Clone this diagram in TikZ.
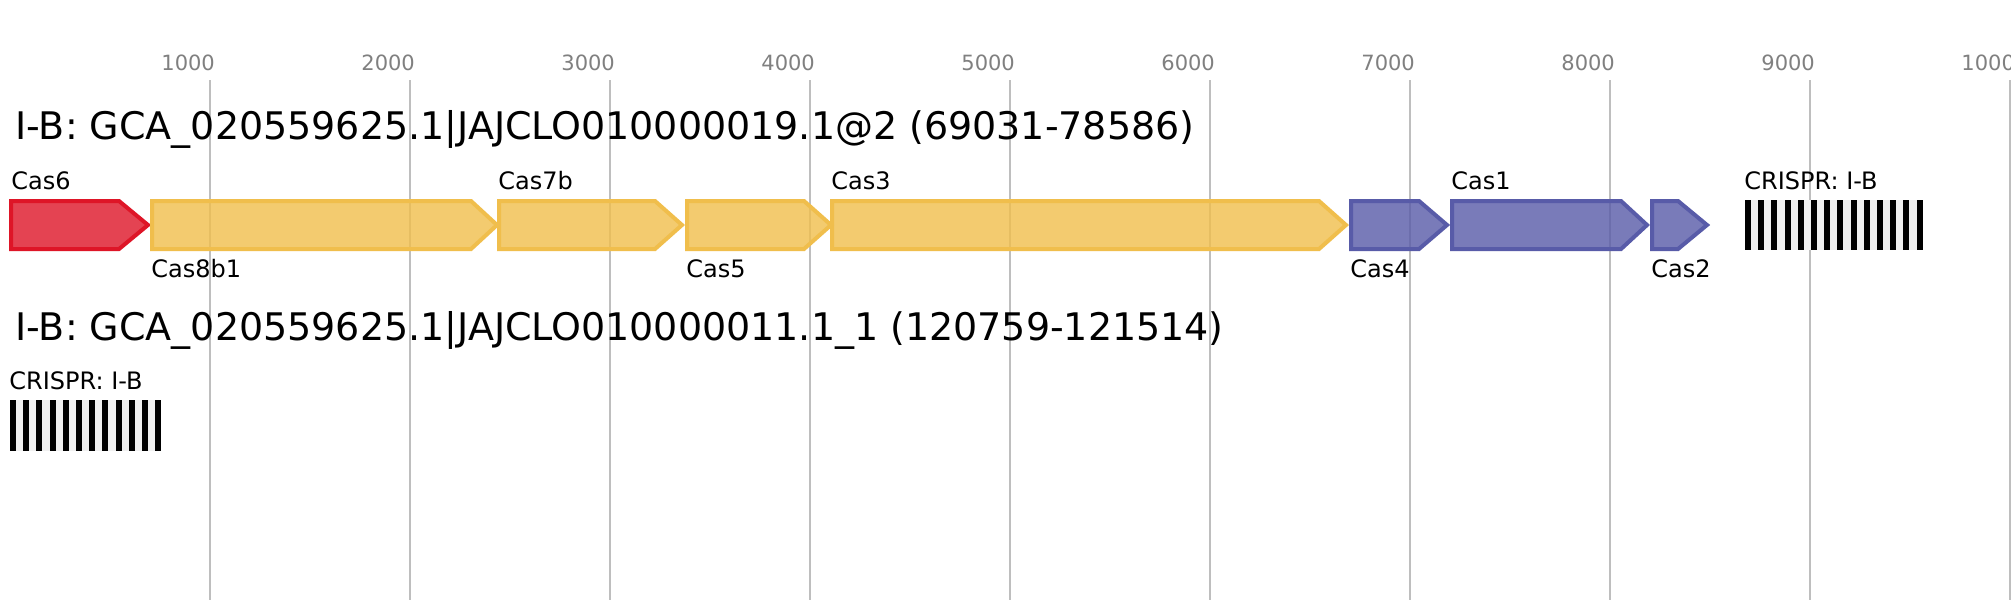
\documentclass[tikz,border=0pt]{standalone}
\usepackage{fontspec}
\setmainfont{DejaVu Sans}
\usetikzlibrary{positioning}

\definecolor{casred}{RGB}{222,21,39}
\definecolor{casyellow}{RGB}{240,190,76}
\definecolor{casblue}{RGB}{88,91,168}
\definecolor{gridgray}{RGB}{190,190,190}
\definecolor{tickgray}{RGB}{128,128,128}
\definecolor{spacergray}{RGB}{240,240,240}

\tikzset{
  gene/.style={line width=2pt, line join=miter, fill opacity=0.8},
  redgene/.style={gene, draw=casred, fill=casred},
  yellowgene/.style={gene, draw=casyellow, fill=casyellow},
  bluegene/.style={gene, draw=casblue, fill=casblue},
  gridline/.style={draw=gridgray, line width=1pt},
  ticklabel/.style={font=\fontsize{10.5}{12}\selectfont, text=tickgray, anchor=base west, inner sep=0pt},
  locustitle/.style={font=\fontsize{19}{22}\selectfont, anchor=base west, inner sep=0pt},
  genelabel/.style={font=\fontsize{12}{14}\selectfont, anchor=base west, inner sep=0pt},
}

\begin{document}
\begin{tikzpicture}[x=0.5pt,y=-0.5pt]
		\useasboundingbox (0,0) rectangle (2011,600);
		\fill[white] (0,0) rectangle (2011,600);
		\foreach \k in {1,...,10} {
			\draw[gridline] (10+200*\k,80) -- (10+200*\k,600);
			\node[ticklabel] (tick\k) at (-39+200*\k,70) {\k000};
		}
		\node[locustitle] (title1) at (15,139) {I-B: GCA\_020559625.1|JAJCLO010000019.1@2 (69031-78586)};
		\node[locustitle] (title2) at (15,340) {I-B: GCA\_020559625.1|JAJCLO010000011.1\_1 (120759-121514)};
		\draw[redgene] (11,201) -- (119,201) -- (148,225) -- (119,249) -- (11,249) -- cycle;
		\draw[yellowgene] (152,201) -- (471,201) -- (497,225) -- (471,249) -- (152,249) -- cycle;
		\draw[yellowgene] (499,201) -- (655,201) -- (682,225) -- (655,249) -- (499,249) -- cycle;
		\draw[yellowgene] (687,201) -- (804,201) -- (831,225) -- (804,249) -- (687,249) -- cycle;
		\draw[yellowgene] (832,201) -- (1319,201) -- (1346,225) -- (1319,249) -- (832,249) -- cycle;
		\draw[bluegene] (1351,201) -- (1419,201) -- (1447,225) -- (1419,249) -- (1351,249) -- cycle;
		\draw[bluegene] (1452,201) -- (1621,201) -- (1647,225) -- (1621,249) -- (1452,249) -- cycle;
		\draw[bluegene] (1652,201) -- (1678,201) -- (1707,225) -- (1678,249) -- (1652,249) -- cycle;
		\node[genelabel] (cas6) at (11,189) {Cas6};
		\node[genelabel] (cas8b1) at (151,277) {Cas8b1};
		\node[genelabel] (cas7b) at (498,189) {Cas7b};
		\node[genelabel] (cas5) at (686,277) {Cas5};
		\node[genelabel] (cas3) at (831,189) {Cas3};
		\node[genelabel] (cas4) at (1350,277) {Cas4};
		\node[genelabel] (cas1) at (1451,189) {Cas1};
		\node[genelabel] (cas2) at (1651,277) {Cas2};
		\node[genelabel] (crispr1) at (1744,189) {CRISPR: I-B};
		\fill[spacergray] (1745,200) rectangle (1922,250);
		\foreach \i in {0,...,13}
			\fill[black] (1745+13.2*\i,200) rectangle ++(6,50);
		\node[genelabel] (crispr2) at (9,389) {CRISPR: I-B};
		\fill[spacergray] (10,400) rectangle (161,451);
		\foreach \i in {0,...,11}
			\fill[black] (10+13.2*\i,400) rectangle ++(6,51);
\end{tikzpicture}
\end{document}
